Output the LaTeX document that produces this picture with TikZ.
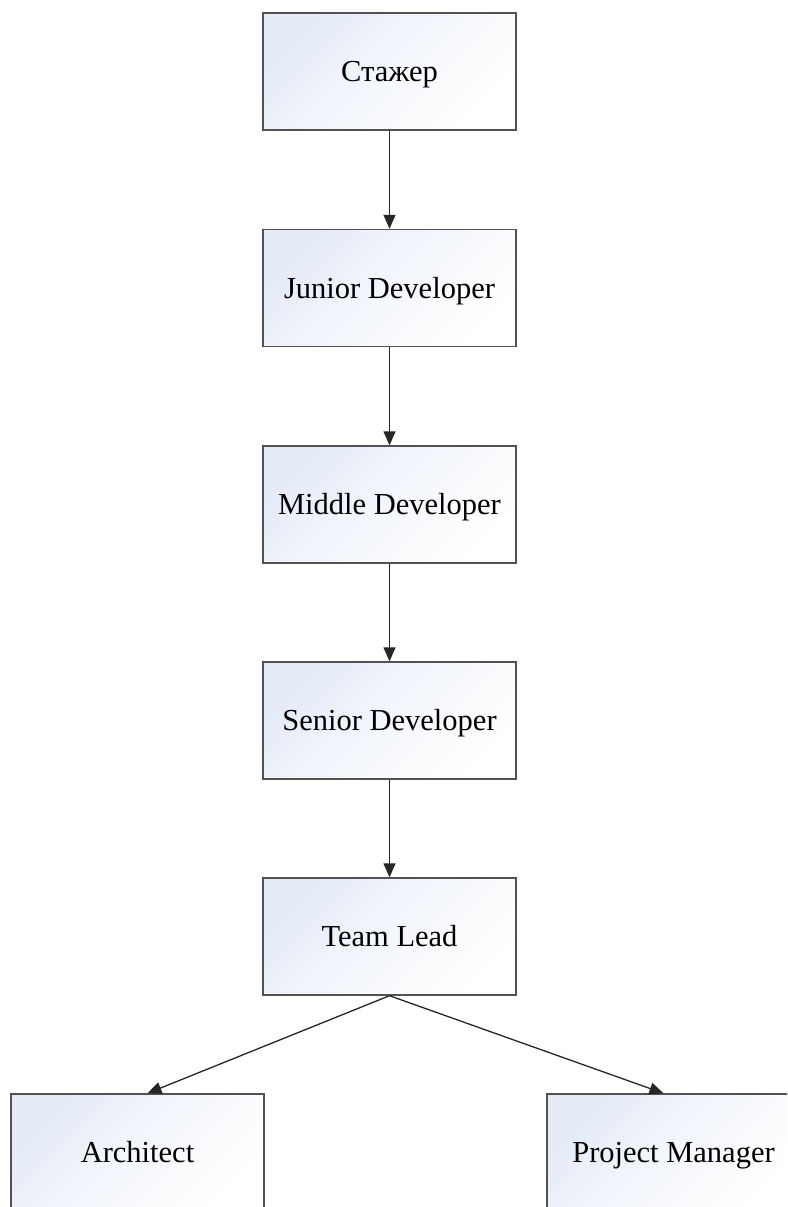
\documentclass[tikz,border=0pt]{standalone}
\usepackage{fontspec}
\setmainfont{Liberation Serif}
\usetikzlibrary{arrows.meta,calc}
\definecolor{stagetint}{RGB}{228,235,247}
\begin{document}
\begin{tikzpicture}[x=1pt,y=-1pt,
  stage/.style={draw=black!68,line width=1.4pt,minimum width=253pt,minimum height=117pt,
    inner sep=0pt,text height=24pt,text depth=4pt,
    shading=axis,top color=stagetint,bottom color=white,middle color=stagetint!40!white,
    shading angle=45,font=\fontsize{30.5}{36}\selectfont},
  link/.style={draw=black!85,line width=1.3pt,-{Triangle[length=14pt,width=12pt]}}]
\useasboundingbox (0,0) rectangle (787,1207);
\clip (0,0) rectangle (787,1207);
\node[stage] (intern) at (389.5,71.5) {Стажер};
\node[stage] (junior) at (389.5,288) {Junior Developer};
\node[stage] (middle) at (389.5,504.5) {Middle Developer};
\node[stage] (senior) at (389.5,720.5) {Senior Developer};
\node[stage] (lead)   at (389.5,936.5) {Team Lead};
\node[stage] (arch)   at (137.5,1152.5) {Architect};
\node[stage] (pm)     at (673.5,1152.5) {Project Manager};
\draw[link] (intern) -- (junior);
\draw[link] (junior) -- (middle);
\draw[link] (middle) -- (senior);
\draw[link] (senior) -- (lead);
\draw[link] (lead.south) -- ($(arch.north)+(10,0)$);
\draw[link] (lead.south) -- ($(pm.north)+(-10,0)$);
\end{tikzpicture}
\end{document}
